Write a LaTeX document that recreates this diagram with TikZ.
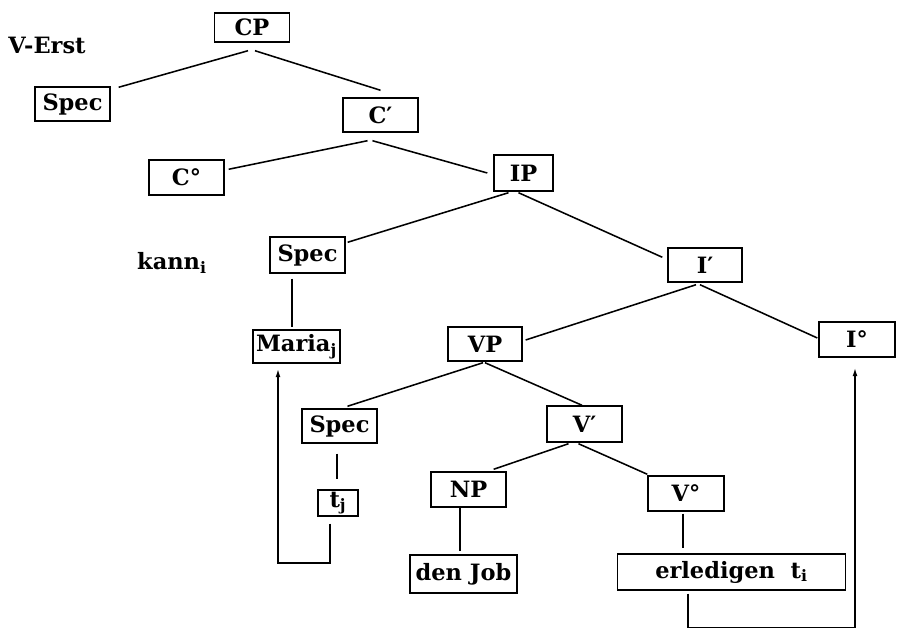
\documentclass[tikz,border=0pt]{standalone}
\usepackage{fontspec}
\setmainfont{DejaVu Serif}
\usetikzlibrary{calc,arrows.meta}
\tikzset{
  cat/.style={draw, line width=1.1pt, inner sep=0pt, font=\fontsize{16}{19}\bfseries\selectfont},
  lbl/.style={inner sep=0pt, font=\fontsize{16}{19}\bfseries\selectfont},
  branch/.style={line width=1.1pt},
  move/.style={line width=1.1pt, -{Latex[length=6pt,width=3.5pt]}}
}
\begin{document}
\begin{tikzpicture}[x=0.025cm,y=-0.025cm]
\useasboundingbox (0,0) rectangle (897,629);

% labels outside the tree
\node[lbl] (verst) at (47,45) {V-Erst};
\node[lbl] (kann) at (172,263) {kann\textsubscript{i}};

% category boxes
\node[cat, minimum width=75pt*0.709, minimum height=29pt*0.709] (cp) at (252,27.5) {CP};
\node[cat, minimum width=75pt*0.709, minimum height=34pt*0.709] (specC) at (72.5,104) {Spec};
\node[cat, minimum width=75pt*0.709, minimum height=34pt*0.709] (cbar) at (380.5,115) {C′};
\node[cat, minimum width=75pt*0.709, minimum height=35pt*0.709] (c0) at (186.5,177.5) {C°};
\node[cat, minimum width=59pt*0.709, minimum height=36pt*0.709] (ip) at (523.5,173) {IP};
\node[cat, minimum width=75pt*0.709, minimum height=36pt*0.709] (specI) at (307.5,255) {Spec};
\node[cat, minimum width=74pt*0.709, minimum height=34pt*0.709] (ibar) at (705,265) {I′};
\node[cat, minimum width=87pt*0.709, minimum height=33pt*0.709] (maria) at (296.5,346.5) {Maria\textsubscript{j}};
\node[cat, minimum width=74pt*0.709, minimum height=34pt*0.709] (vp) at (485,344) {VP};
\node[cat, minimum width=76pt*0.709, minimum height=35pt*0.709] (i0) at (857,339.5) {I°};
\node[cat, minimum width=75pt*0.709, minimum height=34pt*0.709] (specV) at (339.5,426) {Spec};
\node[cat, minimum width=75pt*0.709, minimum height=36pt*0.709] (vbar) at (584.5,424) {V′};
\node[cat, minimum width=40pt*0.709, minimum height=26pt*0.709] (tj) at (338,503) {t\textsubscript{j}};
\node[cat, minimum width=75pt*0.709, minimum height=35pt*0.709] (np) at (468.5,489.5) {NP};
\node[cat, minimum width=107pt*0.709, minimum height=38pt*0.709] (job) at (463.5,574) {den Job};
\node[cat, minimum width=76pt*0.709, minimum height=35pt*0.709] (v0) at (686,493.5) {V°};
\node[cat, minimum width=229pt*0.709, minimum height=36pt*0.709] (erl) at (731.5,572) {erledigen \ t\textsubscript{i}};

% branches
\draw[branch] ($(cp.south)+(-4,8)$) -- ($(specC.north east)+(8,1)$);
\draw[branch] ($(cp.south)+(3,8)$) -- ($(cbar.north)+(0,-7)$);
\draw[branch] ($(cbar.south)+(-13,8)$) -- ($(c0.north east)+(4,10)$);
\draw[branch] ($(cbar.south)+(-8,8)$) -- ($(ip.west)+(-6,0)$);
\draw[branch] ($(ip.south)+(-15,1)$) -- ($(specI.north east)+(2,6)$);
\draw[branch] ($(ip.south)+(-5,1)$) -- ($(ibar.north west)+(-5,10)$);
\draw[branch] ($(ibar.south)+(-9,2)$) -- ($(vp.east)+(3,-4)$);
\draw[branch] ($(ibar.south)+(-5,2)$) -- ($(i0.west)+(-1,-1.5)$);
\draw[branch] ($(vp.south)+(-2,1)$) -- ($(specV.north)+(8,-2)$);
\draw[branch] ($(vp.south)+(0,1)$) -- ($(vbar.north)+(-2.5,0)$);
\draw[branch] ($(vbar.south)+(-16,1)$) -- ($(np.north east)+(-13,-2)$);
\draw[branch] ($(vbar.south)+(-6,1)$) -- ($(v0.north west)+(0,-1)$);
\draw[branch] ($(specI.south)+(-15.5,5)$) -- ($(maria.north)+(-4.5,-2)$);
\draw[branch] ($(specV.south)+(-2.5,10)$) -- ($(tj.north)+(-1,-10)$);
\draw[branch] ($(np.south)+(-8.5,0)$) -- ($(job.north)+(-3.5,-3)$);
\draw[branch] ($(v0.south)+(-3,2)$) -- ($(v0.south)+(-3,36)$);

% movement arrows
\draw[move] ($(tj.south)+(-8,7)$) -- ($(tj.south)+(-8,46)$)
  -| ($(maria.south)+(-18.5,5)$);
\draw[move] ($(erl.south)+(-43.5,3)$) -- ($(erl.south)+(-43.5,37)$)
  -| ($(i0.south)+(-2,10)$);
\end{tikzpicture}
\end{document}
